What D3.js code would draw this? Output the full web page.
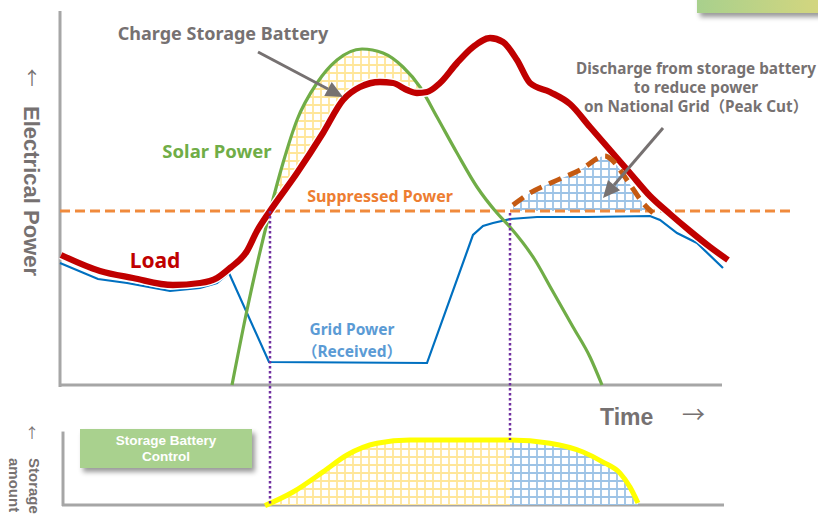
<!DOCTYPE html>
<html><head><meta charset="utf-8">
<script src="https://cdn.jsdelivr.net/npm/d3@7"></script>
<style>body{margin:0;background:#fff}svg{display:block}</style>
</head><body><svg id="c" width="818" height="518"></svg>
<script>
// ---------- data (arbitrary time / power units) ----------
const loadT  = [0.5,20,36.5,56.5,70,78.5,85,93.5,98.5,105,118.5,131.5,141.5,150,160,166.5,173.5,178.5,183.5,190,198.5,206.5,215,221.5,228.5,235,245,255,265,275,285,295,305,315,325,334];
const loadP  = [65,57,53.5,50,51,53.5,58.5,67,77,87,106,126,142.5,149,151.5,151,147.5,146,146.5,151,161,169,173.5,171.5,162.5,151,146.5,140.5,129,117.5,106,94.5,85.5,77,69,62.5];
const solarT = [86,93.5,105,111.5,118.5,128.5,138.5,151,161.5,171.5,180,188.5,198.5,208.5,218.5,225,237.5,246,256.5,265,271];
const solarP = [0,37.5,87,111,132.5,151,162.5,168,166,159,149,134,116,99,86,79,62.5,47.5,29,14,0];
const gridT  = [0,19,33.5,55,70,78.5,84.5,104.5,183.5,206.5,211.5,216.5,225,238.5,263.5,295,300,308.5,318.5,331.5];
const gridP  = [61,53,51,47,48.5,51,56,11.5,11,75,79.5,81,83,84,84,84.5,82.5,76,71,58.5];
const cutT   = [226.5,235,246.5,260,272.5,276,283.5,291.5,296.5];
const cutP   = [90,96,101.5,107.5,114.5,112.5,102.5,91,86];
const storT  = [102.5,116.5,131.5,143.5,158.5,175,225,245,261.5,271.5,280,285,289];
const storS  = [-1,20,51,77,95,100,100,95,81.5,66,49,27.5,3];
const suppressedP = 87;
const suppressedRange = [0, 365];
const chargeStartT = 105, dischargeStartT = 225, chargeEndT = 182;

const zip = (a,b) => a.map((v,i)=>[v,b[i]]);
const load = zip(loadT, loadP), solar = zip(solarT, solarP), grid = zip(gridT, gridP);
const cut = zip(cutT, cutP), stor = zip(storT, storS);

// ---------- scales ----------
const svg = d3.select('#c');
const x = d3.scaleLinear().domain([0,331]).range([60,722]);
const y = d3.scaleLinear().domain([0,189]).range([385,7]);
const ys = d3.scaleLinear().domain([0,100]).range([505,440]);

const GRAY = '#767171', AX = '#a6a6a6';
const F = "'Noto Sans','Noto Sans CJK JP',sans-serif";
const FA = "'Liberation Sans',Arial,sans-serif";

// ---------- defs ----------
const defs = svg.append('defs');
function hatch(id, col){
  const p = defs.append('pattern').attr('id',id).attr('width',8).attr('height',8).attr('patternUnits','userSpaceOnUse');
  p.append('rect').attr('width',8).attr('height',8).attr('fill','#fff');
  p.append('path').attr('d','M0 1H8M1 0V8').attr('stroke',col).attr('stroke-width',1.8);
}
hatch('hy','#ffe699'); hatch('hb','#9dc3e6');
const g1 = defs.append('linearGradient').attr('id','gr');
g1.append('stop').attr('offset',0).attr('stop-color','#a8d08d');
g1.append('stop').attr('offset',1).attr('stop-color','#d6d67e');
const f = defs.append('filter').attr('id','sh').attr('x','-20%').attr('y','-30%').attr('width','150%').attr('height','190%');
f.append('feDropShadow').attr('dx',3).attr('dy',4).attr('stdDeviation',2.5).attr('flood-color','#000').attr('flood-opacity',0.4);
defs.append('clipPath').attr('id','cl1').append('rect').attr('x',0).attr('y',400).attr('width',x(dischargeStartT)).attr('height',118);
defs.append('clipPath').attr('id','cl2').append('rect').attr('x',x(dischargeStartT)).attr('y',400).attr('width',400).attr('height',118);

// top-right decoration
svg.append('rect').attr('x',697).attr('y',-10).attr('width',130).attr('height',23).attr('fill','url(#gr)').attr('filter','url(#sh)');

// ---------- axes ----------
svg.append('line').attr('x1',x(0)).attr('x2',x(0)).attr('y1',y(187)).attr('y2',y(-1)).attr('stroke',AX).attr('stroke-width',3);
svg.append('line').attr('x1',x(-0.5)).attr('x2',x(331)).attr('y1',y(0)).attr('y2',y(0)).attr('stroke',AX).attr('stroke-width',3);
svg.append('line').attr('x1',x(1.5)).attr('x2',x(1.5)).attr('y1',ys(113)).attr('y2',ys(-1.5)).attr('stroke',AX).attr('stroke-width',3);
svg.append('line').attr('x1',x(1)).attr('x2',x(332)).attr('y1',ys(0)).attr('y2',ys(0)).attr('stroke',AX).attr('stroke-width',3);

const cr = d3.curveMonotoneX;
const line = d3.line().x(d=>x(d[0])).y(d=>y(d[1])).curve(cr);

// ---------- hatched areas ----------
const sSub = solar.filter(d=>d[0]>=chargeStartT && d[0]<=chargeEndT).concat([[chargeEndT,146.3]]);
const lSub = load.filter(d=>d[0]>=chargeStartT && d[0]<=chargeEndT).reverse();
const lineL = d3.line().x(d=>x(d[0])).y(d=>y(d[1])).curve(d3.curveCatmullRom.alpha(0.5));
svg.append('path').attr('d', lineL(sSub) + lineL(lSub).replace(/^M/,'L') + 'Z').attr('fill','url(#hy)');
svg.append('path').attr('d', d3.area().x(d=>x(d[0])).y0(y(suppressedP)).y1(d=>y(Math.max(d[1],suppressedP))).curve(cr)(cut)).attr('fill','url(#hb)');

const sArea = d3.area().x(d=>x(d[0])).y0(ys(0)).y1(d=>ys(Math.max(d[1],0))).curve(cr);
svg.append('path').attr('d', sArea(stor)).attr('fill','url(#hy)').attr('clip-path','url(#cl1)');
svg.append('path').attr('d', sArea(stor)).attr('fill','url(#hb)').attr('clip-path','url(#cl2)');

// ---------- lines ----------
svg.append('line').attr('x1',x(suppressedRange[0])).attr('x2',x(suppressedRange[1])).attr('y1',y(suppressedP)).attr('y2',y(suppressedP))
  .attr('stroke','#f08a3c').attr('stroke-width',3.2).attr('stroke-dasharray','10,5');
svg.append('path').attr('d', d3.line().x(d=>x(d[0])).y(d=>y(d[1]))(grid)).attr('fill','none').attr('stroke','#0070c0').attr('stroke-width',2.2);
svg.append('path').attr('d', line(solar)).attr('fill','none').attr('stroke','#70ad47').attr('stroke-width',3.2);
svg.append('path').attr('d', line(load)).attr('fill','none').attr('stroke','#fff').attr('stroke-width',9);
svg.append('path').attr('d', line(load)).attr('fill','none').attr('stroke','#c00000').attr('stroke-width',6.3);
svg.append('path').attr('d', line(cut)).attr('fill','none').attr('stroke','#c55a11').attr('stroke-width',5).attr('stroke-dasharray','13,8');

// storage line
svg.append('path').attr('d', d3.line().x(d=>x(d[0])).y(d=>ys(d[1])).curve(cr)(stor)).attr('fill','none').attr('stroke','#ffff00').attr('stroke-width',5);

// purple guides
svg.append('line').attr('x1',x(chargeStartT)).attr('x2',x(chargeStartT)).attr('y1',y(suppressedP)).attr('y2',ys(0))
  .attr('stroke','#7030a0').attr('stroke-width',2.5).attr('stroke-dasharray','2.5,2.5');
svg.append('line').attr('x1',x(dischargeStartT)).attr('x2',x(dischargeStartT)).attr('y1',y(86)).attr('y2',ys(100))
  .attr('stroke','#7030a0').attr('stroke-width',2.5).attr('stroke-dasharray','2.5,2.5');

// ---------- arrows ----------
function arrow(t0,p0,t1,p1){
  const X0=x(t0),Y0=y(p0),X1=x(t1),Y1=y(p1);
  const a=Math.atan2(Y1-Y0,X1-X0), L=17, W=8;
  const bx=X1-L*Math.cos(a), by=Y1-L*Math.sin(a);
  svg.append('line').attr('x1',X0).attr('y1',Y0).attr('x2',bx).attr('y2',by).attr('stroke',GRAY).attr('stroke-width',3);
  svg.append('path').attr('d',`M${X1},${Y1}L${bx+W*Math.sin(a)},${by-W*Math.cos(a)}L${bx-W*Math.sin(a)},${by+W*Math.cos(a)}Z`).attr('fill',GRAY);
}
arrow(99,166.5,141.5,144);
arrow(301.5,128.5,271.5,93.5);

// ---------- texts ----------
function txt(s,X,Y,o){
  const lines = Array.isArray(s) ? s : [s];
  const t=svg.append('text').attr('x',X).attr('y',Y)
    .attr('font-family',o.ff||F).attr('font-size',o.fs).attr('font-weight',o.fw||'bold')
    .attr('fill',o.c).attr('text-anchor',o.a||'middle');
  lines.forEach((l,i)=>t.append('tspan').attr('x',X).attr('dy',i?o.lh:0).text(l));
  if(o.tr) t.attr('transform',o.tr);
  return t;
}
txt('Charge Storage Battery',223,40,{fs:18,c:GRAY});
txt('Solar Power',217,158,{fs:18.5,c:'#70ad47'});
txt('Suppressed Power',380,202,{fs:16,c:'#ed7d31'});
txt('Load',155,268,{fs:21,c:'#c00000'});
txt(['Grid Power','（Received）'],352,335,{fs:15.5,c:'#5b9bd5',lh:22});
txt(['Discharge from storage battery','to reduce power','on National Grid（Peak Cut）'],696,74,{fs:15.3,c:GRAY,lh:19});
txt('Time',600,425,{fs:23,c:GRAY,a:'start',ff:FA});
txt('→',682,423,{fs:23,c:GRAY,a:'start',fw:'normal',ff:"'Noto Sans CJK JP'"});
txt('↑',32,85,{fs:18,c:GRAY,fw:'normal',ff:"'Noto Sans CJK JP'"});
txt('Electrical Power',0,0,{fs:22,c:GRAY,ff:FA,tr:'translate(24,191) rotate(90)'});
txt('↑',32,438,{fs:14,c:GRAY,fw:'normal',ff:"'Noto Sans CJK JP'"});
txt(['Storage','amount'],0,0,{fs:15,c:GRAY,a:'start',ff:FA,lh:20,tr:'translate(29,458) rotate(90)'});

// control box
svg.append('rect').attr('x',80).attr('y',429).attr('width',172).attr('height',39).attr('fill','#a9d18e').attr('filter','url(#sh)');
txt(['Storage Battery','Control'],166,445,{fs:13.5,c:'#fff',lh:16,ff:FA});
</script></body></html>
